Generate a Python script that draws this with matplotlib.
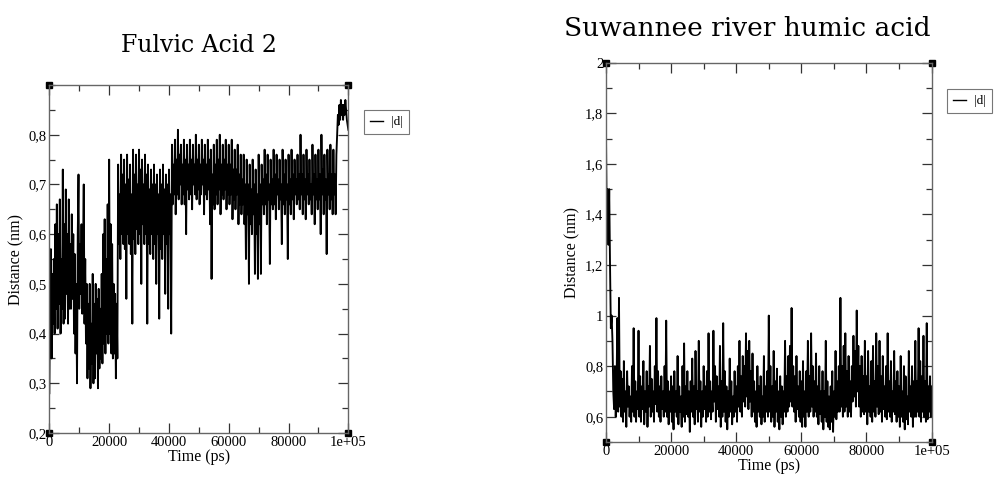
import numpy as np
import matplotlib.pyplot as plt
from matplotlib.ticker import FuncFormatter, MultipleLocator

# Fulvic Acid 2, |d| distance (nm), one value every 250 ps
fulvic_d = [
    0.28, 0.50, 0.57, 0.35, 0.52, 0.42, 0.55, 0.40, 0.62, 0.45, 0.66, 0.41, 0.60, 0.46, 0.67, 0.40, 0.55, 0.45, 0.73, 0.42,
    0.62, 0.43, 0.69, 0.48, 0.60, 0.42, 0.67, 0.45, 0.58, 0.45, 0.64, 0.47, 0.60, 0.40, 0.56, 0.36, 0.50, 0.30, 0.60, 0.72,
    0.45, 0.58, 0.48, 0.62, 0.44, 0.56, 0.70, 0.42, 0.55, 0.38, 0.50, 0.31, 0.46, 0.33, 0.50, 0.29, 0.42, 0.34, 0.52, 0.30,
    0.46, 0.31, 0.50, 0.36, 0.47, 0.29, 0.49, 0.33, 0.45, 0.35, 0.52, 0.34, 0.60, 0.38, 0.63, 0.36, 0.55, 0.40, 0.66, 0.38,
    0.75, 0.40, 0.62, 0.36, 0.58, 0.35, 0.50, 0.36, 0.48, 0.31, 0.46, 0.35, 0.74, 0.58, 0.68, 0.55, 0.76, 0.60, 0.72, 0.58,
    0.75, 0.57, 0.70, 0.47, 0.76, 0.60, 0.71, 0.58, 0.74, 0.56, 0.68, 0.42, 0.77, 0.59, 0.72, 0.56, 0.76, 0.61, 0.70, 0.58,
    0.77, 0.60, 0.73, 0.50, 0.75, 0.62, 0.70, 0.58, 0.76, 0.60, 0.72, 0.42, 0.74, 0.58, 0.69, 0.56, 0.73, 0.60, 0.70, 0.55,
    0.74, 0.58, 0.70, 0.50, 0.72, 0.60, 0.68, 0.43, 0.73, 0.57, 0.70, 0.55, 0.74, 0.60, 0.69, 0.48, 0.72, 0.58, 0.70, 0.45,
    0.73, 0.60, 0.68, 0.40, 0.78, 0.66, 0.74, 0.68, 0.79, 0.64, 0.75, 0.68, 0.81, 0.67, 0.76, 0.70, 0.78, 0.66, 0.74, 0.68,
    0.79, 0.66, 0.75, 0.60, 0.78, 0.69, 0.74, 0.67, 0.79, 0.68, 0.75, 0.65, 0.78, 0.70, 0.74, 0.68, 0.80, 0.67, 0.75, 0.69,
    0.78, 0.66, 0.74, 0.68, 0.79, 0.70, 0.75, 0.64, 0.78, 0.68, 0.74, 0.67, 0.79, 0.69, 0.75, 0.62, 0.77, 0.51, 0.72, 0.66,
    0.78, 0.65, 0.74, 0.68, 0.79, 0.66, 0.75, 0.69, 0.80, 0.64, 0.74, 0.68, 0.78, 0.67, 0.75, 0.69, 0.79, 0.65, 0.74, 0.68,
    0.78, 0.66, 0.74, 0.68, 0.79, 0.63, 0.73, 0.67, 0.77, 0.65, 0.73, 0.68, 0.78, 0.62, 0.72, 0.66, 0.76, 0.64, 0.71, 0.66,
    0.76, 0.62, 0.70, 0.55, 0.75, 0.64, 0.70, 0.50, 0.74, 0.62, 0.69, 0.60, 0.75, 0.64, 0.70, 0.52, 0.73, 0.60, 0.68, 0.51,
    0.76, 0.62, 0.70, 0.52, 0.74, 0.66, 0.71, 0.64, 0.77, 0.66, 0.72, 0.62, 0.76, 0.67, 0.70, 0.54, 0.75, 0.66, 0.71, 0.65,
    0.77, 0.66, 0.72, 0.63, 0.76, 0.68, 0.71, 0.65, 0.75, 0.67, 0.70, 0.58, 0.77, 0.66, 0.72, 0.64, 0.75, 0.67, 0.70, 0.55,
    0.76, 0.66, 0.71, 0.64, 0.77, 0.67, 0.72, 0.63, 0.75, 0.68, 0.71, 0.66, 0.76, 0.67, 0.72, 0.65, 0.80, 0.68, 0.72, 0.64,
    0.76, 0.67, 0.71, 0.63, 0.77, 0.68, 0.72, 0.66, 0.75, 0.67, 0.70, 0.64, 0.78, 0.68, 0.72, 0.62, 0.76, 0.67, 0.71, 0.65,
    0.77, 0.67, 0.72, 0.60, 0.80, 0.68, 0.73, 0.64, 0.76, 0.67, 0.71, 0.56, 0.77, 0.68, 0.72, 0.65, 0.78, 0.67, 0.72, 0.64,
    0.77, 0.68, 0.72, 0.64, 0.76, 0.80, 0.84, 0.82, 0.86, 0.83, 0.87, 0.84, 0.86, 0.83, 0.86, 0.84, 0.87, 0.85, 0.83, 0.82,
    0.81,
]
fulvic_t = np.linspace(0, 100000, len(fulvic_d))

# Suwannee river humic acid, |d| distance (nm), one value every 250 ps
srha_d = [
    1.73, 1.35, 1.50, 1.28, 1.50, 1.20, 0.95, 1.00, 0.90, 0.70, 0.63, 0.80, 0.60, 0.72, 0.99, 0.62, 1.07, 0.64, 0.78, 0.60,
    0.75, 0.58, 0.82, 0.62, 0.70, 0.56, 0.78, 0.64, 0.72, 0.60, 0.68, 0.58, 0.80, 0.62, 0.95, 0.60, 0.74, 0.58, 0.70, 0.63,
    0.94, 0.60, 0.76, 0.58, 0.72, 0.63, 0.82, 0.57, 0.70, 0.62, 0.78, 0.56, 0.72, 0.64, 0.88, 0.60, 0.75, 0.62, 0.70, 0.58,
    0.80, 0.65, 0.99, 0.62, 0.78, 0.60, 0.72, 0.58, 0.76, 0.63, 0.70, 0.60, 0.80, 0.62, 0.98, 0.60, 0.74, 0.57, 0.70, 0.62,
    0.76, 0.58, 0.72, 0.55, 0.78, 0.62, 0.70, 0.60, 0.84, 0.57, 0.72, 0.62, 0.68, 0.56, 0.80, 0.60, 0.89, 0.58, 0.72, 0.61,
    0.78, 0.60, 0.70, 0.54, 0.74, 0.62, 0.83, 0.60, 0.72, 0.57, 0.86, 0.63, 0.70, 0.58, 0.90, 0.62, 0.74, 0.56, 0.70, 0.60,
    0.80, 0.63, 0.72, 0.58, 0.78, 0.60, 0.93, 0.62, 0.74, 0.59, 0.70, 0.62, 0.94, 0.66, 0.80, 0.58, 0.76, 0.63, 0.72, 0.60,
    0.88, 0.56, 0.74, 0.60, 0.97, 0.62, 0.78, 0.58, 0.72, 0.55, 0.70, 0.60, 0.83, 0.62, 0.74, 0.57, 0.68, 0.60, 0.78, 0.62,
    0.72, 0.58, 0.80, 0.64, 0.90, 0.62, 0.76, 0.60, 0.84, 0.66, 0.80, 0.64, 0.93, 0.68, 0.86, 0.63, 0.90, 0.66, 0.78, 0.60,
    0.85, 0.62, 0.74, 0.58, 0.70, 0.56, 0.80, 0.62, 0.72, 0.60, 0.76, 0.57, 0.68, 0.60, 0.84, 0.58, 0.72, 0.62, 0.78, 0.60,
    1.00, 0.62, 0.80, 0.58, 0.72, 0.60, 0.86, 0.56, 0.74, 0.62, 0.79, 0.58, 0.70, 0.55, 0.76, 0.60, 0.72, 0.57, 0.70, 0.62,
    0.90, 0.60, 0.76, 0.62, 0.84, 0.64, 0.88, 0.66, 1.03, 0.64, 0.80, 0.62, 0.76, 0.58, 0.84, 0.63, 0.72, 0.60, 0.78, 0.58,
    0.74, 0.56, 0.82, 0.60, 0.70, 0.56, 0.78, 0.62, 0.90, 0.60, 0.76, 0.62, 0.93, 0.64, 0.80, 0.60, 0.74, 0.62, 0.85, 0.60,
    0.72, 0.57, 0.80, 0.61, 0.70, 0.58, 0.78, 0.55, 0.70, 0.60, 0.90, 0.58, 0.74, 0.56, 0.68, 0.55, 0.72, 0.58, 0.78, 0.54,
    0.70, 0.60, 0.86, 0.59, 0.74, 0.62, 0.80, 0.62, 1.07, 0.64, 0.80, 0.60, 0.88, 0.62, 0.93, 0.64, 0.78, 0.60, 0.84, 0.62,
    0.74, 0.60, 0.80, 0.66, 0.92, 0.68, 0.86, 0.64, 1.02, 0.70, 0.88, 0.64, 0.80, 0.60, 0.84, 0.62, 0.76, 0.61, 0.90, 0.62,
    0.76, 0.57, 0.86, 0.62, 0.72, 0.60, 0.82, 0.58, 0.88, 0.62, 0.74, 0.60, 0.93, 0.64, 0.80, 0.61, 0.90, 0.62, 0.76, 0.58,
    0.84, 0.63, 0.72, 0.60, 0.80, 0.59, 0.93, 0.62, 0.74, 0.60, 0.82, 0.58, 0.70, 0.62, 0.86, 0.61, 0.74, 0.58, 0.78, 0.60,
    0.72, 0.56, 0.84, 0.60, 0.70, 0.58, 0.80, 0.55, 0.76, 0.59, 0.68, 0.57, 0.86, 0.62, 0.72, 0.60, 0.80, 0.56, 0.74, 0.60,
    0.90, 0.60, 0.74, 0.62, 0.95, 0.60, 0.82, 0.58, 0.76, 0.62, 0.92, 0.60, 0.74, 0.58, 0.97, 0.59, 0.72, 0.62, 0.76, 0.60,
    0.72,
]
srha_t = np.linspace(0, 100000, len(srha_d))

x_ticks = [0, 20000, 40000, 60000, 80000, 100000]
x_labels = ['0', '20000', '40000', '60000', '80000', '1e+05']


def comma_fmt(v, pos):
    s = ('%.1f' % v).rstrip('0').rstrip('.')
    return s.replace('.', ',')


def grace_axes(ax, ylim, yticks, yminor):
    ax.set_xlim(0, 100000)
    ax.set_xticks(x_ticks)
    ax.set_xticklabels(x_labels)
    ax.xaxis.set_minor_locator(MultipleLocator(10000))
    ax.set_yticks(yticks)
    ax.yaxis.set_minor_locator(MultipleLocator(yminor))
    ax.yaxis.set_major_formatter(FuncFormatter(comma_fmt))
    ax.set_ylim(*ylim)
    ax.tick_params(which='both', direction='in', top=True, right=True,
                   color='#333333', labelsize=10.5, pad=2)
    ax.tick_params(which='major', length=7.5, width=0.9)
    ax.tick_params(which='minor', length=4, width=0.9)
    for lab in ax.get_xticklabels() + ax.get_yticklabels():
        lab.set_family('Liberation Serif')
    for sp in ax.spines.values():
        sp.set_color('#666666')
        sp.set_linewidth(1.0)
    ax.set_xlabel('Time (ps)', family='Liberation Serif', fontsize=11.5, labelpad=0)
    ax.set_ylabel('Distance (nm)', family='Liberation Serif', fontsize=11.5, labelpad=3)
    # Grace corner handles
    ax.plot([0, 1, 0, 1], [0, 0, 1, 1], 's', color='black', markersize=4,
            transform=ax.transAxes, clip_on=False)
    leg = ax.legend(loc='upper left', frameon=True, fancybox=False,
                    handlelength=1.0, handletextpad=0.6, borderpad=0.45,
                    borderaxespad=0, prop={'family': 'Liberation Serif', 'size': 9.5})
    leg.get_frame().set_edgecolor('#555555')
    leg.get_frame().set_linewidth(0.8)
    for h in leg.get_lines():
        h.set_linewidth(1.0)
    return leg


fig = plt.figure(figsize=(9.95, 4.78), dpi=100)

ax1 = fig.add_axes([0.0496, 0.0941, 0.3005, 0.728])
ax1.plot(fulvic_t, fulvic_d, color='black', linewidth=1.35, label='|d|')
leg1 = grace_axes(ax1, (0.2, 0.9), [0.2, 0.3, 0.4, 0.5, 0.6, 0.7, 0.8], 0.05)
leg1.set_bbox_to_anchor((1.053, 0.928), transform=ax1.transAxes)
ax1.set_title('Fulvic Acid 2', family='DejaVu Serif', fontsize=17, pad=24)

ax2 = fig.add_axes([0.609, 0.0753, 0.3273, 0.7935])
ax2.plot(srha_t, srha_d, color='black', linewidth=1.35, label='|d|')
leg2 = grace_axes(ax2, (0.5, 2.0), [0.6, 0.8, 1.0, 1.2, 1.4, 1.6, 1.8, 2.0], 0.1)
leg2.set_bbox_to_anchor((1.047, 0.93), transform=ax2.transAxes)
ax2.set_title('Suwannee river humic acid', family='DejaVu Serif', fontsize=19,
              x=0.433, pad=19)

fig.savefig('out.png', dpi=100)
